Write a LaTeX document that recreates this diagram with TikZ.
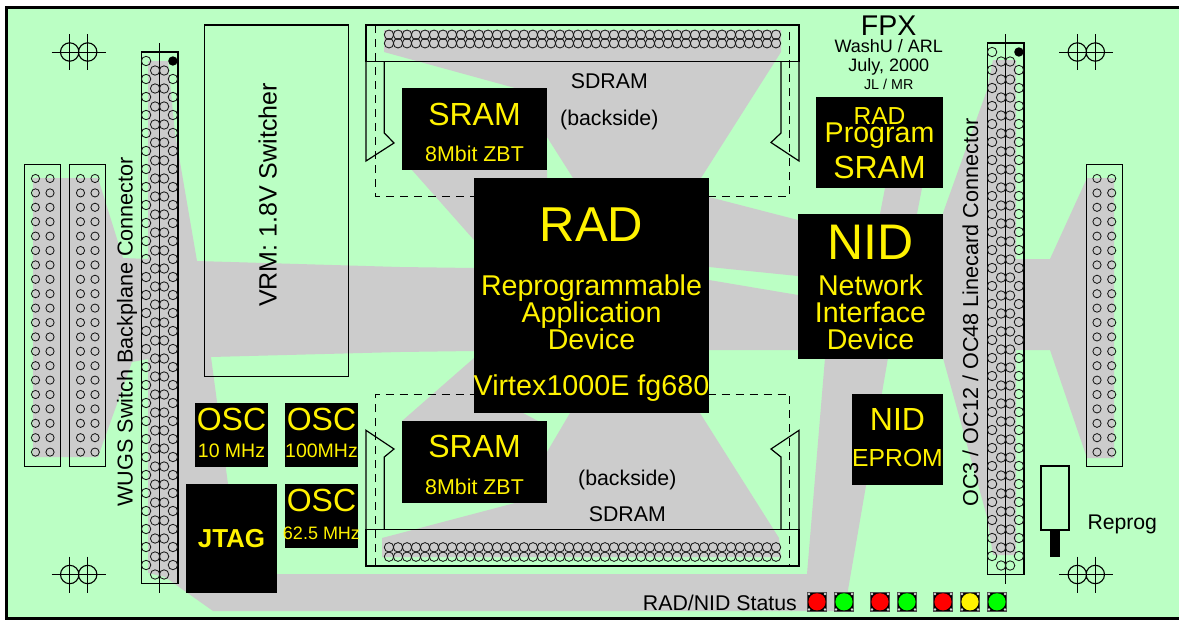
\documentclass[tikz,border=0pt]{standalone}
\usepackage{fontspec}
\setmainfont{Liberation Sans}

\definecolor{boardgreen}{RGB}{187,255,196}
\definecolor{busgray}{RGB}{204,204,204}

\tikzset{
  sz/.style={font=\fontsize{#1}{#1}\selectfont},
  lbl/.style={inner sep=0pt,anchor=base},
  chiplbl/.style={lbl,text=yellow},
  vlbl/.style={inner sep=0pt,rotate=90,anchor=base west},
  chip/.style={fill=black},
  bus/.style={fill=busgray},
  pin/.style={draw=black!90,line width=0.85pt},
  hdr/.style={draw=black,line width=0.9pt},
  dimm/.style={draw=black,line width=1.2pt},
}

% one LED on the status row
\newcommand{\statusled}[2]{
  \fill [black!70] (#1,592) rectangle +(20,19.5);
  \fill [black] (#1+1,593) rectangle +(18,17.5);
  \foreach \cx/\cy in {2/594,18/594,2/609.5,18/609.5}
    \fill [white!70!gray] (#1+\cx,\cy) circle (1.3);
  \fill [#2] (#1+10,601.8) circle (8.6);
}

\begin{document}
\begin{tikzpicture}[x=1pt,y=-1pt]
  \useasboundingbox (0,0) rectangle (1179,619);
  \clip (0,0) rectangle (1179,619);

  % board
  \draw [line width=3pt,fill=boardgreen] (6.5,7.5) rectangle (1195,618.5);

  % busses
  \fill [bus] (33,178) -- (98,178) -- (123,258) -- (148,259) -- (148,61) -- (168,61) -- (175,133)
    -- (197,261) -- (400,267) -- (474,268) -- (474,351) -- (400,352) -- (211,357) -- (228,484)
    -- (277,574) -- (807,574) -- (825,358) -- (888,358) -- (848,590) -- (845,611) -- (213,611)
    -- (165,577) -- (148,573) -- (148,359) -- (132,362) -- (98,457) -- (33,457) -- cycle;
  \fill [bus] (384,30) -- (781,30) -- (781,52) -- (701,178) -- (573,178) -- (547,137) -- (547,88)
    -- (515,88) -- (384,52) -- cycle;
  \fill [bus] (412,170) -- (547,170) -- (547,178) -- (474,178) -- (474,240) -- cycle;
  \fill [bus] (382,557) -- (781,557) -- (779,538) -- (700,413) -- (570,413) -- (547,452) -- (547,503)
    -- (515,503) -- (382,538) -- cycle;
  \fill [bus] (402,421) -- (538,421) -- (523,413) -- (474,413) -- (474,358) -- cycle;
  \fill [bus] (709,197) -- (798,220) -- (798,276) -- (709,267) -- cycle;
  \fill [bus] (709,280) -- (798,295) -- (798,350) -- (709,350) -- cycle;
  \fill [bus] (885,188) -- (922,188) -- (917,214) -- (880,214) -- cycle;
  \fill [bus] (993,60) -- (1016,60) -- (1016,259) -- (1050,259) -- (1087,178) -- (1114,178)
    -- (1114,458) -- (1087,458) -- (1050,350) -- (1016,350) -- (1016,555) -- (993,555)
    -- (987,517) -- (943,358) -- (943,213) -- (987,90) -- cycle;

  % mounting holes
  \foreach \hx in {69.7,1077.3}
    \foreach \hy in {52,574.5} {
      \draw [line width=1.1pt] (\hx,\hy) circle (9.2) (\hx+18,\hy) circle (9.2);
      \draw [line width=0.6pt] (\hx-18,\hy) -- (\hx+36,\hy)
        (\hx,\hy-18) -- (\hx,\hy+18) (\hx+18,\hy-18) -- (\hx+18,\hy+18);
    }

  % short headers
  \foreach \hx/\pa/\pb in {24/35.5/50,69/80.5/95,1086.7/1097/1111.7} {
    \draw [hdr] (\hx,164) rectangle (\hx+36,466);
    \foreach \n in {0,...,19} {
      \draw [pin] (\pa,178.5+14.4*\n) circle (4.1);
      \draw [pin] (\pb,178.5+14.4*\n) circle (4.1);
    }
  }

  % long headers
  \foreach \hx/\ty in {141.5/52,987.5/43} {
    \draw [hdr,line width=1.2pt] (\hx,\ty) rectangle (\hx+36.5,\ty+531.5);
    \draw [line width=0.8pt] (\hx+18.2,\ty-9) -- (\hx+18.2,\ty+541);
    \foreach \n in {0,...,28} {
      \draw [pin] (\hx+4.6,\ty+9+18*\n) circle (4.7);
      \draw [pin] (\hx+13.6,\ty+18.5+18*\n) circle (4.7);
      \draw [pin] (\hx+22.6,\ty+18.5+18*\n) circle (4.7);
      \ifnum\n>0 \draw [pin] (\hx+31.4,\ty+9+18*\n) circle (4.7); \fi
    }
    \fill [black] (\hx+31.4,\ty+9) circle (4.7);
  }

  % VRM
  \draw [line width=1.3pt] (204.5,25) rectangle (348.5,376.7);

  % SDRAM, top
  \draw [dash pattern=on 8pt off 6pt,line width=0.7pt] (375.5,25) -- (375.5,196.5) -- (789.5,196.5) -- (789.5,25);
  \draw [dimm] (366,25) rectangle (799,61.7);
  \draw [dimm] (366,61.7) -- (366,161) -- (394,143) -- (384.3,133) -- (384.3,61.7);
  \draw [dimm] (799,61.7) -- (799,161) -- (771,142.5) -- (781,133) -- (781,61.7);
  \foreach \n in {0,...,43} {
    \draw [pin] (389+9*\n,34.7) circle (4.7);
    \draw [pin] (389+9*\n,43.3) circle (4.7);
  }

  % SDRAM, bottom
  \draw [dash pattern=on 8pt off 6pt,line width=0.7pt] (375.5,566) -- (375.5,394) -- (789.5,394) -- (789.5,566);
  \draw [dimm] (366,529.3) rectangle (799,566);
  \draw [dimm] (366,529.3) -- (366,430.3) -- (394,449) -- (384.3,457) -- (384.3,529.3);
  \draw [dimm] (799,529.3) -- (799,430.3) -- (771,449) -- (781,457) -- (781,529.3);
  \foreach \n in {0,...,43} {
    \draw [pin] (389+9*\n,547.3) circle (4.7);
    \draw [pin] (389+9*\n,556.7) circle (4.7);
  }

  % chips
  \fill [chip] (402,88) rectangle (547,170);
  \fill [chip] (402,421) rectangle (547,503);
  \fill [chip] (474,178) rectangle (709,413);
  \fill [chip] (816,97) rectangle (943,188);
  \fill [chip] (798,214) rectangle (943,359);
  \fill [chip] (852,394) rectangle (943,485);
  \fill [chip] (195,403) rectangle (268,467);
  \fill [chip] (285,403) rectangle (358,467);
  \fill [chip] (285,484) rectangle (358,548);
  \fill [chip] (186,484) rectangle (277,593);

  % RAD
  \node (radname) [chiplbl,sz=49] at (591.5,241) {RAD};
  \node (radlonga) [chiplbl,sz=28.6] at (591.5,295) {Reprogrammable};
  \node (radlongb) [chiplbl,sz=28.6] at (591.5,322) {Application};
  \node (radlongc) [chiplbl,sz=28.6] at (591.5,349) {Device};
  \node (radpart) [chiplbl,sz=28.7] at (591.5,395) {Virtex1000E fg680};

  % NID
  \node (nidname) [chiplbl,sz=50] at (870.5,259) {NID};
  \node (nidlonga) [chiplbl,sz=28.6] at (870.5,295) {Network};
  \node (nidlongb) [chiplbl,sz=28.6] at (870.5,322) {Interface};
  \node (nidlongc) [chiplbl,sz=28.6] at (870.5,349) {Device};

  % memories
  \node (sramtop) [chiplbl,sz=32] at (474.5,125) {SRAM};
  \node (sramtopb) [chiplbl,sz=21.4] at (474.5,161) {8Mbit ZBT};
  \node (srambot) [chiplbl,sz=32] at (474.5,457.7) {SRAM};
  \node (srambotb) [chiplbl,sz=21.4] at (474.5,494) {8Mbit ZBT};
  \node (proga) [chiplbl,sz=24.6] at (879.5,124) {RAD};
  \node (progb) [chiplbl,sz=28.6] at (879.5,142.7) {Program};
  \node (progc) [chiplbl,sz=32] at (879.5,178.3) {SRAM};
  \node (eproma) [chiplbl,sz=32] at (897.5,430.7) {NID};
  \node (epromb) [chiplbl,sz=24.7] at (897.5,466.7) {EPROM};

  % oscillators
  \node (osca) [chiplbl,sz=32] at (231.5,430.7) {OSC};
  \node (oscaf) [chiplbl,sz=19.5] at (231.5,457.7) {10 MHz};
  \node (oscb) [chiplbl,sz=32] at (321.5,430.7) {OSC};
  \node (oscbf) [chiplbl,sz=19.5] at (321.5,457.7) {100MHz};
  \node (oscc) [chiplbl,sz=32] at (321.5,511.7) {OSC};
  \node (osccf) [chiplbl,sz=18] at (321.5,539) {62.5 MHz};
  \node (jtag) [chiplbl,sz=26] at (231.5,547) {\bfseries JTAG};

  % title
  \node (title) [lbl,sz=28.5] at (888.7,35) {FPX};
  \node (titleb) [lbl,sz=18] at (888.7,52.7) {WashU / ARL};
  \node (titlec) [lbl,sz=18] at (888.7,71) {July, 2000};
  \node (titled) [lbl,sz=14.3] at (888.7,89.3) {JL / MR};

  % other labels
  \node (sdramtop) [lbl,sz=21.3] at (609.3,88.3) {SDRAM};
  \node (backtop) [lbl,sz=21.3] at (609.3,125) {(backside)};
  \node (backbot) [lbl,sz=21.3] at (627.3,485.7) {(backside)};
  \node (sdrambot) [lbl,sz=21.3] at (627.3,521) {SDRAM};
  \node (vrm) [vlbl,sz=25] at (276.7,307) {VRM: 1.8V Switcher};
  \node (wugs) [vlbl,sz=21.6] at (132.7,506.7) {WUGS Switch Backplane Connector};
  \node (linecard) [vlbl,sz=21.6] at (978,506.7) {OC3 / OC12 / OC48 Linecard Connector};

  % reprog switch
  \draw [line width=1.2pt] (1041,466) rectangle (1069,530);
  \fill [black] (1050,530) rectangle (1060,557);
  \node (reprog) [lbl,anchor=base west,sz=21.2] at (1087.3,529) {Reprog};

  % status row
  \node (status) [lbl,anchor=base east,sz=21.3] at (797,610) {RAD/NID Status};
  \foreach \lx/\lc in {807/red,834/green,870/red,897/green,933/red,960/yellow,987/green} {
    \statusled{\lx}{\lc}
  }

\end{tikzpicture}
\end{document}
